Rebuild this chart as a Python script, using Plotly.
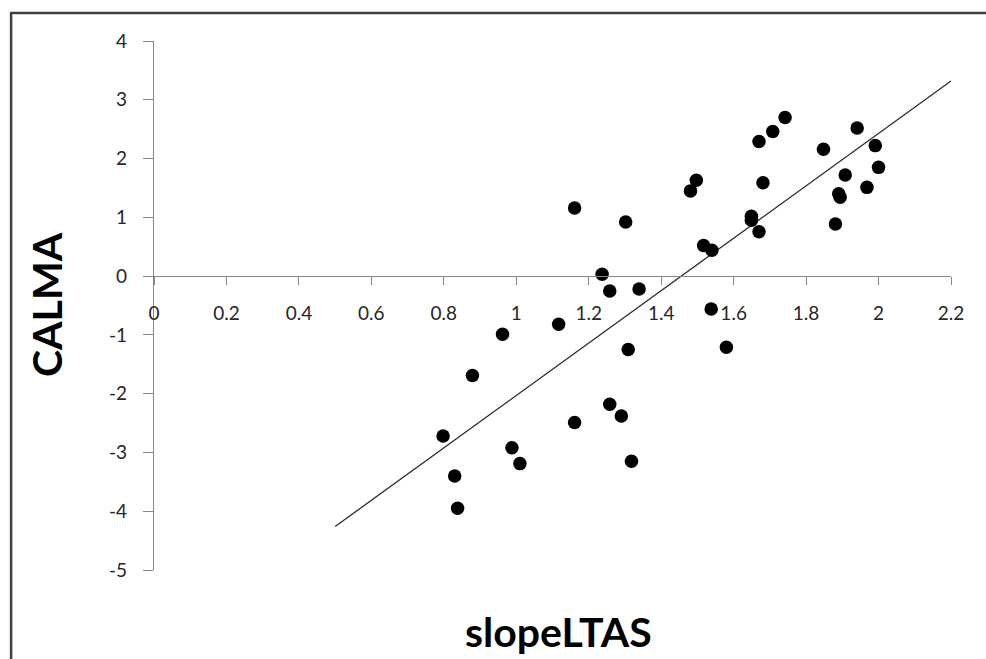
import plotly.graph_objects as go

# Measured values: slope of the long-term average spectrum vs. CALMA score
slope_ltas = [1.161, 1.302, 1.237, 1.258, 1.339, 1.481, 1.497, 1.517, 1.540,
              1.649, 1.649, 1.670, 1.670, 1.681, 1.708, 1.742, 1.941, 1.848,
              1.991, 2.000, 1.908, 1.968, 1.890, 1.894, 1.881, 1.538, 1.580,
              0.962, 1.117, 1.309, 0.879, 1.258, 1.290, 1.161, 0.798, 0.988,
              1.010, 1.318, 0.830, 0.838]
calma = [1.16, 0.92, 0.03, -0.255, -0.22, 1.45, 1.63, 0.52, 0.44,
         1.02, 0.95, 0.755, 2.29, 1.59, 2.46, 2.70, 2.52, 2.16,
         2.22, 1.85, 1.72, 1.51, 1.40, 1.34, 0.885, -0.56, -1.21,
         -0.99, -0.82, -1.25, -1.69, -2.18, -2.38, -2.49, -2.72, -2.92,
         -3.19, -3.15, -3.40, -3.95]

# Linear trend line end points
trend_x = [0.5, 2.2]
trend_y = [-4.26, 3.32]

x_ticks = [0, 0.2, 0.4, 0.6, 0.8, 1.0, 1.2, 1.4, 1.6, 1.8, 2.0, 2.2]
x_tick_text = ["0", "0.2", "0.4", "0.6", "0.8", "1", "1.2", "1.4", "1.6", "1.8", "2", "2.2"]
y_ticks = [-5, -4, -3, -2, -1, 0, 1, 2, 3, 4]
y_tick_text = ["-5", "-4", "-3", "-2", "-1", "0", "1", "2", "3", "4"]

x_range = [0, 2.2]
y_range = [-5, 4]

axis_grey = "#868686"
tick_font = dict(family="Lato, 'DejaVu Sans', sans-serif", size=19, color="#262626")
title_font = dict(family="Lato, 'DejaVu Sans', sans-serif", size=41, color="#000000")

fig = go.Figure()

fig.add_trace(go.Scatter(
    x=trend_x, y=trend_y, mode="lines",
    line=dict(color="#2a2a2a", width=1.3),
    hoverinfo="skip", showlegend=False,
))

fig.add_trace(go.Scatter(
    x=slope_ltas, y=calma, mode="markers",
    marker=dict(color="#000000", size=13.5, line=dict(width=0)),
    showlegend=False,
))

# Place the horizontal axis where y = 0
x_axis_pos = (0 - y_range[0]) / (y_range[1] - y_range[0])

fig.update_layout(
    width=986, height=659,
    margin=dict(l=154, r=34.5, t=41, b=89),
    paper_bgcolor="white", plot_bgcolor="white",
    xaxis=dict(
        range=x_range, anchor="free", position=x_axis_pos,
        showgrid=False, zeroline=False,
        showline=True, linecolor=axis_grey, linewidth=1.3,
        ticks="outside", ticklen=8, tickcolor=axis_grey, tickwidth=1.3,
        tickvals=x_ticks, ticktext=x_tick_text,
        tickfont=tick_font, ticklabelstandoff=12,
    ),
    yaxis=dict(
        range=y_range, showgrid=False, zeroline=False,
        showline=True, linecolor=axis_grey, linewidth=1.3,
        ticks="outside", ticklen=10, tickcolor=axis_grey, tickwidth=1.3,
        tickvals=y_ticks, ticktext=y_tick_text,
        tickfont=tick_font, ticklabelstandoff=12,
    ),
    annotations=[
        dict(text="<b>CALMA</b>", textangle=-90, xref="paper", yref="paper",
             x=-0.1342, y=0.501, xanchor="center", yanchor="middle",
             showarrow=False, font=title_font),
        dict(text="<b>slopeLTAS</b>", xref="paper", yref="paper",
             x=0.5078, y=-0.117, xanchor="center", yanchor="middle",
             showarrow=False, font=title_font),
    ],
    shapes=[
        dict(type="rect", xref="paper", yref="paper",
             x0=-0.1793, x1=1.06, y0=-0.2, y1=1.0529,
             line=dict(color="#404040", width=2.5), fillcolor="rgba(0,0,0,0)",
             layer="below"),
    ],
)

fig.write_html("out.html")
